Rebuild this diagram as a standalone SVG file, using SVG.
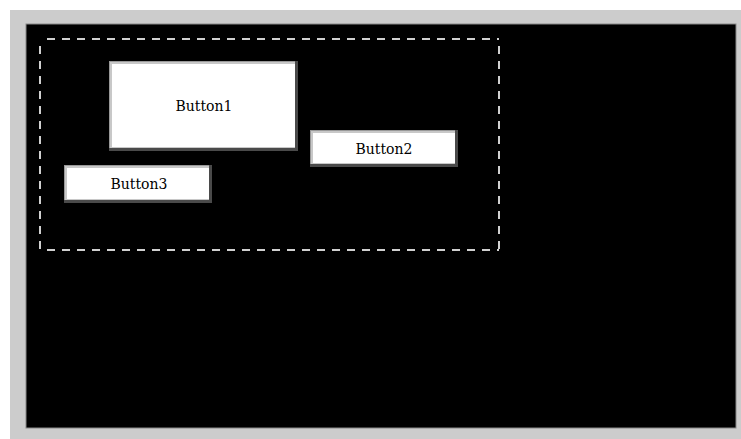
<svg xmlns="http://www.w3.org/2000/svg" width="741" height="439" viewBox="0 0 741 439">
<style>
.btn-dark{fill:#4a4a4a}
.btn-light{fill:#c8c8c8}
.btn-face{fill:#ffffff}
.lbl{font-family:"DejaVu Serif","Liberation Serif",serif;font-size:14px;fill:#000;text-anchor:middle}
.dash{stroke:#d0d0d0;stroke-width:2;stroke-dasharray:8 7;stroke-dashoffset:8;fill:none}
</style>
<rect x="0" y="0" width="741" height="439" fill="#ffffff"/>
<rect x="10" y="10" width="731" height="429" fill="#cccccc"/>
<rect x="26" y="24" width="710" height="404" fill="#000000" stroke="#888888" stroke-width="1"/>
<g id="selection">
<line class="dash" x1="40" y1="39" x2="499" y2="39"/>
<line class="dash" x1="40" y1="39" x2="40" y2="251"/>
<line class="dash" x1="40" y1="250" x2="499" y2="250"/>
<line class="dash" x1="499" y1="39" x2="499" y2="251"/>
</g>
<g id="button1">
<rect class="btn-dark" x="109" y="61" width="189" height="90"/>
<rect fill="#999" x="109" y="61" width="186" height="87"/>
<rect class="btn-light" x="110" y="62" width="185" height="86"/>
<rect class="btn-face" x="112" y="64" width="183" height="83"/>
<text class="lbl" x="204" y="111">Button1</text>
</g>
<g id="button2">
<rect class="btn-dark" x="310" y="130" width="148" height="37"/>
<rect fill="#999" x="310" y="130" width="145" height="34"/>
<rect class="btn-light" x="311" y="131" width="144" height="33"/>
<rect class="btn-face" x="313" y="133" width="142" height="30"/>
<text class="lbl" x="384" y="153.5">Button2</text>
</g>
<g id="button3">
<rect class="btn-dark" x="64" y="165" width="148" height="38"/>
<rect fill="#999" x="64" y="165" width="145" height="35"/>
<rect class="btn-light" x="65" y="166" width="144" height="34"/>
<rect class="btn-face" x="67" y="168" width="142" height="31"/>
<text class="lbl" x="139" y="188.5">Button3</text>
</g>
<g id="connectors"></g>
</svg>
